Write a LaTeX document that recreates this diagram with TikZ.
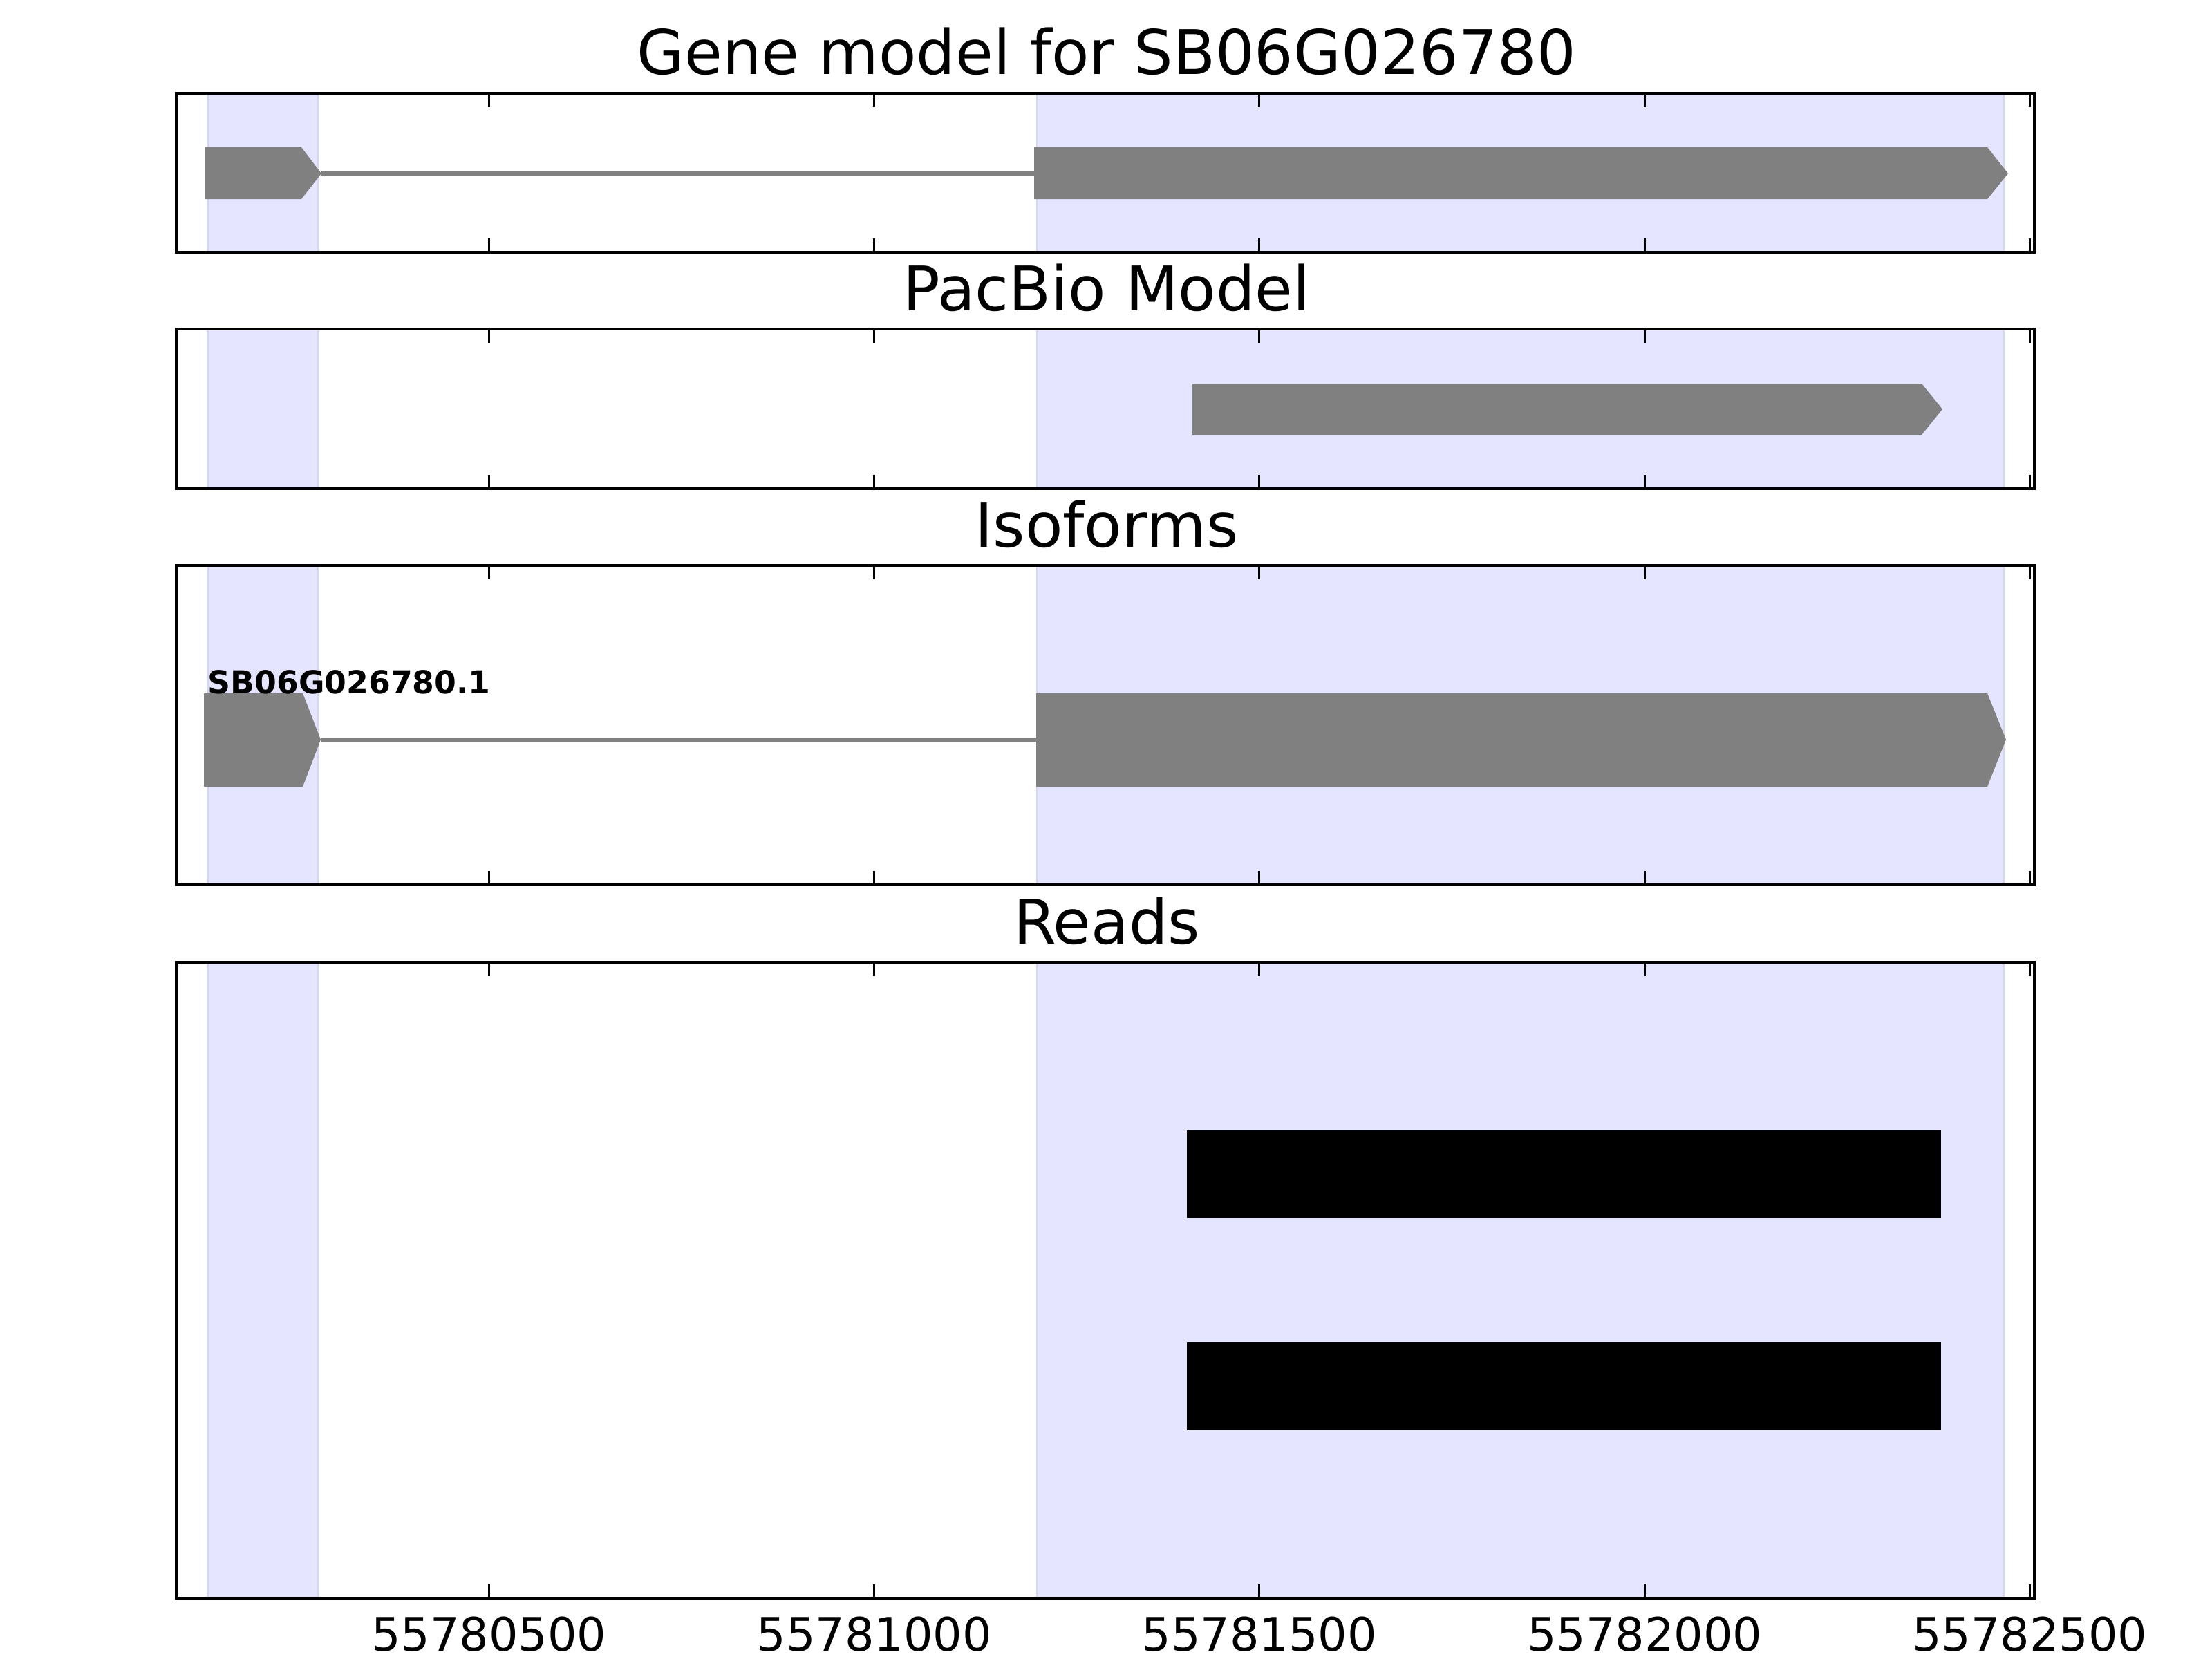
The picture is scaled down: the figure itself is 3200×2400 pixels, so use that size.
\documentclass[tikz,border=0pt]{standalone}
\usepackage{fontspec}
\setmainfont{DejaVu Sans}

\definecolor{spanblue}{RGB}{229,229,255}
\definecolor{spanedge}{RGB}{214,214,236}
\definecolor{exongray}{RGB}{128,128,128}

\tikzset{
  frame/.style={draw=black, line width=0.045cm},
  tickmark/.style={draw=black, line width=0.03cm},
  shade/.style={fill=spanblue, draw=spanedge, line width=0.03cm},
  exon/.style={fill=exongray, draw=none},
  intron/.style={draw=exongray, line width=0.05cm},
  read/.style={fill=black},
  paneltitle/.style={font=\fontsize{25.3}{30}\selectfont, anchor=base, inner sep=0pt},
  ticklabel/.style={font=\fontsize{19}{23}\selectfont, anchor=north, inner sep=0pt},
  isolabel/.style={font=\fontsize{13}{16}\selectfont\bfseries, anchor=base west, inner sep=0pt}
}

\begin{document}
\begin{tikzpicture}[x=0.01cm, y=-0.01cm]
\useasboundingbox (0,0) rectangle (3200,2400);

% ================= SHADED EXON SPANS =================
\foreach \ptop/\pbot in {135/365, 476/707, 818/1280, 1392/2312}{
  \draw[shade] (300,\ptop) rectangle (460,\pbot);
  \draw[shade] (1500,\ptop) rectangle (2898,\pbot);
}

% ================= GENE MODEL =================
\fill[exon] (296,213) -- (436,213) -- (465,251) -- (436,288) -- (296,288) -- cycle;
\draw[intron] (465,251) -- (1496,251);
\fill[exon] (1496,213) -- (2875,213) -- (2905,251) -- (2875,288) -- (1496,288) -- cycle;

% ================= PACBIO MODEL =================
\fill[exon] (1725,555) -- (2780,555) -- (2810,592) -- (2780,629) -- (1725,629) -- cycle;

% ================= ISOFORMS =================
\fill[exon] (295,1003) -- (438,1003) -- (464,1070) -- (438,1138) -- (295,1138) -- cycle;
\draw[intron] (464,1070) -- (1499,1070);
\fill[exon] (1499,1003) -- (2875,1003) -- (2902,1070) -- (2875,1138) -- (1499,1138) -- cycle;
\node[isolabel] (iso1) at (300,1003) {SB06G026780.1};

% ================= READS =================
\fill[read] (1717,1635) rectangle (2808,1762);
\fill[read] (1717,1942) rectangle (2808,2069);

% ================= FRAMES AND TICKS =================
\foreach \ptop/\pbot in {135/365, 476/707, 818/1280, 1392/2312}{
  \draw[frame] (255,\ptop) rectangle (2943,\pbot);
  \foreach \tx in {707.3, 1264.6, 1821.9, 2379.2, 2936.5}{
    \draw[tickmark] (\tx,\ptop) -- ++(0,20);
    \draw[tickmark] (\tx,\pbot) -- ++(0,-20);
  }
}

% tick labels
\foreach \tx/\tl [count=\i] in {707.3/55780500, 1264.6/55781000, 1821.9/55781500,
                                2379.2/55782000, 2936.5/55782500}{
  \node[ticklabel] (pos\i) at (\tx,2338) {\tl};
}

% ================= TITLES =================
\node[paneltitle] (genetitle) at (1601,108) {Gene model for SB06G026780};
\node[paneltitle] (pacbiotitle) at (1601,449) {PacBio Model};
\node[paneltitle] (isotitle) at (1601,791) {Isoforms};
\node[paneltitle] (readstitle) at (1601,1365) {Reads};

\end{tikzpicture}
\end{document}
